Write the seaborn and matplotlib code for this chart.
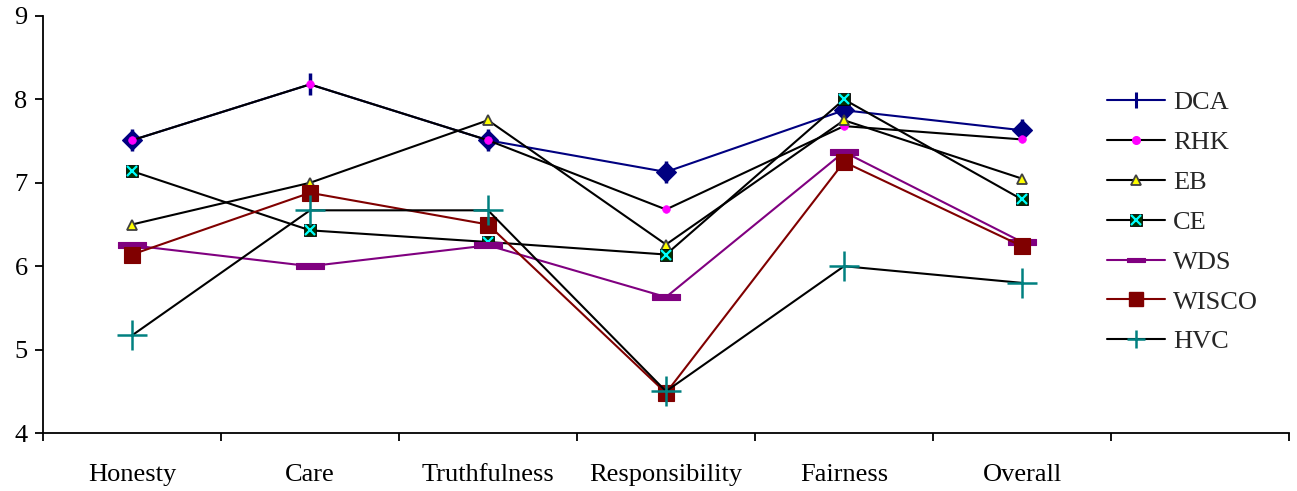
import numpy as np
import pandas as pd
import seaborn as sns
import matplotlib
matplotlib.use("Agg")
import matplotlib.pyplot as plt
from matplotlib.lines import Line2D
from matplotlib.path import Path
from matplotlib.ticker import FixedLocator

categories = ["Honesty", "Care", "Truthfulness", "Responsibility", "Fairness", "Overall"]

dca = [7.51, 8.18, 7.51, 7.13, 7.87, 7.63]
rhk = [7.51, 8.18, 7.51, 6.68, 7.68, 7.52]
eb = [6.50, 7.00, 7.75, 6.26, 7.75, 7.05]
ce = [7.14, 6.43, 6.29, 6.14, 8.00, 6.80]
wds = [6.25, 6.00, 6.25, 5.63, 7.37, 6.29]
wisco = [6.14, 6.88, 6.50, 4.48, 7.25, 6.24]
hvc = [5.17, 6.67, 6.67, 4.50, 6.00, 5.80]

y_ticks = [4, 5, 6, 7, 8, 9]

sns.set_theme(style="ticks")
plt.rcParams["font.family"] = ["Liberation Serif", "DejaVu Serif"]

NAVY = "#000080"
MAGENTA = "#FF00FF"
PURPLE = "#800080"
DARKRED = "#800000"
TEAL = "#008080"
BLACK = "#000000"

# wide flat bar used as the WDS marker
bar_marker = Path([(-1, -0.24), (1, -0.24), (1, 0.24), (-1, 0.24), (-1, -0.24)],
                  [Path.MOVETO, Path.LINETO, Path.LINETO, Path.LINETO, Path.CLOSEPOLY])

fig = plt.figure(figsize=(12.97, 4.91), dpi=100)
ax = fig.add_axes([43 / 1297, 1 - 433 / 491, (1289 - 43) / 1297, (433 - 16) / 491])

xpos = np.arange(len(categories))
lw = 1.5

def draw(values, line_color, x=xpos, **kws):
    df = pd.DataFrame({"x": x, "y": values})
    sns.lineplot(data=df, x="x", y="y", ax=ax, color=line_color, linewidth=lw,
                 sort=False, estimator=None, legend=False, **kws)

# DCA: line with a vertical tick at Care and diamonds elsewhere
draw(dca, NAVY, marker="|", markersize=16, markeredgecolor=NAVY, markeredgewidth=2.5)
diamond_idx = [0, 2, 3, 4, 5]
draw([dca[i] for i in diamond_idx], NAVY, x=xpos[diamond_idx], linestyle="none",
     marker="D", markersize=10.5, markerfacecolor=NAVY, markeredgecolor=NAVY,
     markeredgewidth=0.8)
# RHK
draw(rhk, BLACK, marker="o", markersize=5.5, markerfacecolor=MAGENTA,
     markeredgecolor=MAGENTA, markeredgewidth=0.5)
# EB
draw(eb, BLACK, marker="^", markersize=7, markerfacecolor="#FFFF00",
     markeredgecolor="#404040", markeredgewidth=1.3)
# CE: dark square with a cyan cross
draw(ce, BLACK, marker="s", markersize=8.5, markerfacecolor="#003300",
     markeredgecolor="#000000", markeredgewidth=0.6)
draw(ce, BLACK, linestyle="none", marker="x", markersize=6.5,
     markeredgecolor="#00FFFF", markeredgewidth=1.6)
# WDS
draw(wds, PURPLE, marker=bar_marker, markersize=20, markerfacecolor=PURPLE,
     markeredgecolor=PURPLE, markeredgewidth=0.8)
# WISCO
draw(wisco, DARKRED, marker="s", markersize=11, markerfacecolor=DARKRED,
     markeredgecolor=DARKRED, markeredgewidth=0.8)
# HVC
draw(hvc, BLACK, marker="+", markersize=21, markeredgecolor=TEAL,
     markeredgewidth=1.8)

ax.set_xlim(-0.5, 6.5)
ax.set_ylim(4, 9)
ax.set_yticks(y_ticks)
ax.set_yticklabels([str(t) for t in y_ticks], fontsize=19)
ax.set_xticks(xpos)
ax.set_xticklabels(categories, fontsize=19)
ax.xaxis.set_minor_locator(FixedLocator(np.arange(-0.5, 7.0, 1.0)))
ax.tick_params(axis="x", which="major", length=0, pad=22, colors="black")
ax.tick_params(axis="x", which="minor", length=5.5, width=1.3, direction="out", color="black")
ax.tick_params(axis="y", which="major", length=6, width=1.3, direction="out", pad=5, colors="black")
ax.set_xlabel("")
ax.set_ylabel("")
for side in ["top", "right"]:
    ax.spines[side].set_visible(False)
for side in ["left", "bottom"]:
    ax.spines[side].set_color("black")
    ax.spines[side].set_linewidth(1.3)
ax.grid(False)

handles = [
    Line2D([], [], color=NAVY, lw=lw, marker="|", markersize=11, markeredgewidth=2.2,
           markeredgecolor=NAVY),
    Line2D([], [], color=BLACK, lw=lw, marker="o", markersize=5.5, markerfacecolor=MAGENTA,
           markeredgecolor=MAGENTA),
    Line2D([], [], color=BLACK, lw=lw, marker="^", markersize=6.5, markerfacecolor="#FFFF00",
           markeredgecolor="#404040", markeredgewidth=1.3),
    (Line2D([], [], color=BLACK, lw=lw, marker="s", markersize=8.5, markerfacecolor="#003300",
            markeredgecolor="#000000", markeredgewidth=0.6),
     Line2D([], [], linestyle="none", marker="x", markersize=6.5, markeredgecolor="#00FFFF",
            markeredgewidth=1.6)),
    Line2D([], [], color=PURPLE, lw=lw, marker=bar_marker, markersize=13, markerfacecolor=PURPLE,
           markeredgecolor=PURPLE, markeredgewidth=0.8),
    Line2D([], [], color=DARKRED, lw=lw, marker="s", markersize=10.5, markerfacecolor=DARKRED,
           markeredgecolor=DARKRED),
    Line2D([], [], color=BLACK, lw=lw, marker="+", markersize=12.5, markeredgecolor=TEAL,
           markeredgewidth=1.8),
]
labels = ["DCA", "RHK", "EB", "CE", "WDS", "WISCO", "HVC"]
fig.legend(handles, labels, loc="upper left", bbox_to_anchor=(1107 / 1297, 1 - 91 / 491),
           frameon=False, fontsize=19, handlelength=2.2, handletextpad=0.3,
           labelspacing=0.62, borderpad=0, borderaxespad=0)

fig.savefig("out.png", dpi=100, facecolor="white")
